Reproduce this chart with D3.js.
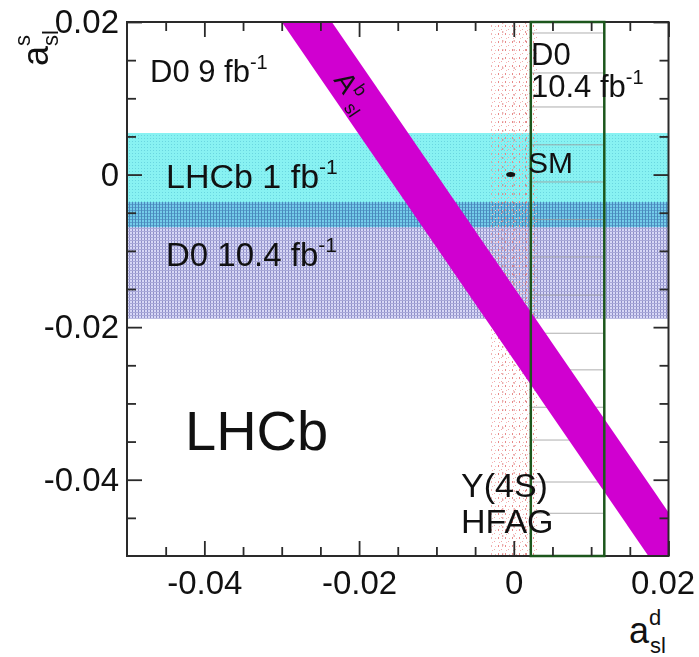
<!DOCTYPE html>
<html><head><meta charset="utf-8">
<script src="https://cdn.jsdelivr.net/npm/d3@7"></script>
<style>
body{margin:0;background:#fff}
svg{display:block}
text{font-family:"Liberation Sans",Arial,sans-serif;fill:#111}
</style>
</head><body><svg id="c" width="699" height="657"></svg>
<script>
// ---------- data ----------
const xDomain = [-0.05, 0.02];
const yDomain = [-0.05, 0.02];
const xMajorTicks = [-0.04, -0.02, 0, 0.02];
const xTickLabels = ["-0.04", "-0.02", "0", "0.02"];
const yMajorTicks = [0.02, 0, -0.02, -0.04];
const yTickLabels = ["0.02", "0", "-0.02", "-0.04"];
const minorStep = 0.005;
// horizontal (a_sl^s) measurements
const hBandNames = ["LHCb 1 fb-1", "D0 10.4 fb-1"];
const hBandLow = [-0.0069, -0.0189];
const hBandHigh = [0.00545, -0.0036];
// vertical (a_sl^d) measurements
const vBandNames = ["Y(4S) HFAG", "D0 10.4 fb-1"];
const vBandLow = [-0.0029, 0.0022];
const vBandHigh = [0.0030, 0.0117];
// D0 9 fb-1 A_sl^b band: a_s = intercept + slope * a_d
const aslbSlope = -1.477;
const aslbIntercepts = [-0.0243, -0.01474];
// Standard Model point
const smPoint = [-0.0004, 0.0000];
// faint hatch lines of the D0 a_sl^d box
const hatchLinesY = [0.01856, 0.01332, 0.00886, 0.0039, -0.00097, -0.0059, -0.0108, -0.0158, -0.0208, -0.0256, -0.0305, -0.0348, -0.0403, -0.0444];

const FONT = '"Liberation Sans",Arial,sans-serif';

// ---------- layout ----------
const L = 127, T = 22, R = 668.5, B = 556;
const svg = d3.select("#c");
const x = d3.scaleLinear().domain(xDomain).range([L, R]);
const y = d3.scaleLinear().domain(yDomain).range([B, T]);

const defs = svg.append("defs");
defs.append("clipPath").attr("id", "plot").append("rect")
  .attr("x", L).attr("y", T).attr("width", R - L).attr("height", B - T);

// patterns
const pc = defs.append("pattern").attr("id", "pCyan").attr("patternUnits", "userSpaceOnUse")
  .attr("width", 3).attr("height", 3);
pc.append("rect").attr("width", 3).attr("height", 3).attr("fill", "#88f2f2");
pc.append("rect").attr("x", 0).attr("y", 0).attr("width", 1).attr("height", 1).attr("fill", "#6ad6e0");

const pl = defs.append("pattern").attr("id", "pLav").attr("patternUnits", "userSpaceOnUse")
  .attr("width", 3).attr("height", 3);
pl.append("rect").attr("width", 3).attr("height", 3).attr("fill", "#d8d8f6");
pl.append("rect").attr("x", 0).attr("y", 0).attr("width", 1).attr("height", 3).attr("fill", "#8e8ec8");
pl.append("rect").attr("x", 0).attr("y", 0).attr("width", 3).attr("height", 1).attr("fill", "#a8a8d8");

const pr = defs.append("pattern").attr("id", "pRed").attr("patternUnits", "userSpaceOnUse")
  .attr("width", 7).attr("height", 8);
pr.append("rect").attr("x", 1).attr("y", 1).attr("width", 1).attr("height", 2).attr("fill", "#e88a8a");
pr.append("rect").attr("x", 4).attr("y", 5).attr("width", 1).attr("height", 1).attr("fill", "#f0a8a8");
pr.append("rect").attr("x", 5).attr("y", 2).attr("width", 1).attr("height", 1).attr("fill", "#f4b8b8");
pr.append("rect").attr("x", 2).attr("y", 6).attr("width", 1).attr("height", 1).attr("fill", "#f4b8b8");

const g = svg.append("g").attr("clip-path", "url(#plot)");

// horizontal bands
const hFills = ["url(#pCyan)", "url(#pLav)"];
g.selectAll("rect.hband").data(hBandNames).join("rect").attr("class", "hband")
  .attr("x", L).attr("width", R - L)
  .attr("y", (d, i) => y(hBandHigh[i]))
  .attr("height", (d, i) => y(hBandLow[i]) - y(hBandHigh[i]))
  .attr("fill", (d, i) => hFills[i])
  .style("mix-blend-mode", (d, i) => i === 1 ? "multiply" : null);

// HFAG vertical dotted band
g.append("rect")
  .attr("x", x(vBandLow[0])).attr("width", x(vBandHigh[0]) - x(vBandLow[0]))
  .attr("y", T).attr("height", B - T).attr("fill", "url(#pRed)");
[0.25, 0.5, 0.75].forEach(f => {
  const xv = vBandLow[0] + f * (vBandHigh[0] - vBandLow[0]);
  g.append("line").attr("x1", x(xv)).attr("x2", x(xv)).attr("y1", T).attr("y2", B)
    .attr("stroke", "#d86060").attr("stroke-width", 1).attr("stroke-dasharray", "2,7").attr("opacity", 0.7);
});

// hatch lines in D0 a_d box
g.selectAll("line.hatch").data(hatchLinesY).join("line").attr("class", "hatch")
  .attr("x1", x(vBandLow[1])).attr("x2", x(vBandHigh[1]))
  .attr("y1", d => y(d)).attr("y2", d => y(d))
  .attr("stroke", "#9a9a9a").attr("stroke-width", 1).attr("opacity", 0.8);

// A_sl^b band
const ax0 = xDomain[0] - 0.01, ax1 = xDomain[1] + 0.01;
const poly = [
  [ax0, aslbIntercepts[0] + aslbSlope * ax0],
  [ax1, aslbIntercepts[0] + aslbSlope * ax1],
  [ax1, aslbIntercepts[1] + aslbSlope * ax1],
  [ax0, aslbIntercepts[1] + aslbSlope * ax0]
];
g.append("path").attr("d", d3.line().x(d => x(d[0])).y(d => y(d[1]))(poly) + "Z")
  .attr("fill", "#d000d0");

// frame
svg.append("rect").attr("x", L).attr("y", T).attr("width", R - L).attr("height", B - T)
  .attr("fill", "none").attr("stroke", "#2a2a2a").attr("stroke-width", 2);

// D0 a_d box
svg.append("rect")
  .attr("x", x(vBandLow[1])).attr("width", x(vBandHigh[1]) - x(vBandLow[1]))
  .attr("y", T).attr("height", B - T)
  .attr("fill", "none").attr("stroke", "#1c561c").attr("stroke-width", 2.5);

// axes
const minorX = d3.range(-0.045, 0.0199, minorStep).map(v => +v.toFixed(4)).filter(v => !xMajorTicks.some(m => Math.abs(m - v) < 1e-6));
const minorY = d3.range(-0.045, 0.0199, minorStep).map(v => +v.toFixed(4)).filter(v => !yMajorTicks.some(m => Math.abs(m - v) < 1e-6));
function styleAxis(sel) {
  sel.attr("font-family", null).attr("font-size", null);
  sel.select(".domain").remove();
  sel.selectAll("line").attr("stroke", "#2a2a2a").attr("stroke-width", 1.8);
  sel.selectAll("text").style("font-family", FONT).style("font-size", "33px").attr("fill", "#111");
}
svg.append("g").attr("transform", `translate(0,${B})`)
  .call(d3.axisBottom(x).tickValues(minorX).tickSize(-9).tickFormat("")).call(styleAxis);
const xAxisG = svg.append("g").attr("transform", `translate(0,${B})`)
  .call(d3.axisBottom(x).tickValues(xMajorTicks).tickSize(-15).tickPadding(15)
    .tickFormat((d, i) => xTickLabels[i])).call(styleAxis);
// keep the last label inside the page
xAxisG.selectAll("text").filter((d, i) => i === xMajorTicks.length - 1).attr("dx", -6);
svg.append("g").attr("transform", `translate(0,${T})`)
  .call(d3.axisTop(x).tickValues(minorX).tickSize(-9).tickFormat("")).call(styleAxis);
svg.append("g").attr("transform", `translate(0,${T})`)
  .call(d3.axisTop(x).tickValues(xMajorTicks).tickSize(-15).tickFormat("")).call(styleAxis);
svg.append("g").attr("transform", `translate(${L},0)`)
  .call(d3.axisLeft(y).tickValues(minorY).tickSize(-9).tickFormat("")).call(styleAxis);
svg.append("g").attr("transform", `translate(${L},0)`)
  .call(d3.axisLeft(y).tickValues(yMajorTicks).tickSize(-15).tickPadding(8)
    .tickFormat((d, i) => yTickLabels[i])).call(styleAxis);
svg.append("g").attr("transform", `translate(${R},0)`)
  .call(d3.axisRight(y).tickValues(minorY).tickSize(-9).tickFormat("")).call(styleAxis);
svg.append("g").attr("transform", `translate(${R},0)`)
  .call(d3.axisRight(y).tickValues(yMajorTicks).tickSize(-15).tickFormat("")).call(styleAxis);

// SM point
svg.append("ellipse").attr("cx", x(smPoint[0])).attr("cy", y(smPoint[1]))
  .attr("rx", 4.5).attr("ry", 2.5).attr("fill", "#111");

// text helper with super/subscripts
function label(xp, yp, parts, size, rot) {
  const t = svg.append("text").attr("x", xp).attr("y", yp).style("font-size", size + "px").style("font-family", FONT);
  if (rot) t.attr("transform", `rotate(${rot},${xp},${yp})`);
  let shift = 0;
  parts.forEach(p => {
    const s = t.append("tspan").text(p.t);
    const target = p.dy || 0;
    if (target !== shift) { s.attr("dy", target - shift); shift = target; }
    if (p.s) s.style("font-size", p.s + "px");
  });
  return t;
}
label(150, 82, [{t: "D0 9 fb"}, {t: "-1", dy: -13, s: 20}], 31);
label(531, 65, [{t: "D0"}], 31);
label(531, 97, [{t: "10.4 fb"}, {t: "-1", dy: -13, s: 20}], 31);
label(166, 188, [{t: "LHCb 1 fb"}, {t: "-1", dy: -14, s: 21}], 34);
label(166, 266, [{t: "D0 10.4 fb"}, {t: "-1", dy: -14, s: 21}], 33);
label(528, 173, [{t: "SM"}], 30);
label(185, 450, [{t: "LHCb"}], 56);
label(461, 497, [{t: "Y(4S)"}], 34);
label(461, 533, [{t: "HFAG"}], 34);
label(333, 80, [{t: "A"}, {t: "b", dy: -11, s: 18}, {t: "sl", dy: 7, s: 18}], 28, 56);
// axis titles
const xt = svg.append("text").attr("x", 629).attr("y", 643).style("font-size", "36px").style("font-family", FONT);
xt.append("tspan").text("a");
xt.append("tspan").text("d").attr("dy", -18).style("font-size", "22px");
xt.append("tspan").text("sl").attr("x", 650).attr("dy", 28).style("font-size", "22px");
const yt = svg.append("text").attr("x", 0).attr("y", 0).style("font-size", "36px").style("font-family", FONT)
  .attr("transform", "translate(48,66) rotate(-90)");
yt.append("tspan").text("a");
yt.append("tspan").text("s").attr("dy", -18).style("font-size", "22px");
yt.append("tspan").text("sl").attr("x", 20).attr("dy", 28).style("font-size", "22px");
</script>
</body></html>
